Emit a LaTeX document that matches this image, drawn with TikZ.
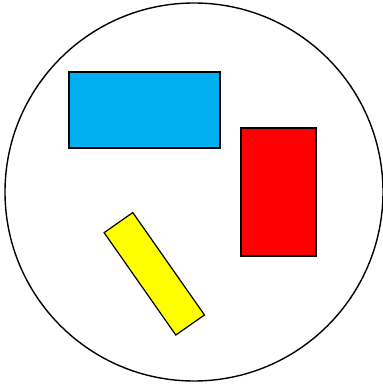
\documentclass[tikz,border=0pt]{standalone}
\usetikzlibrary{positioning,calc}
\definecolor{skyblue}{HTML}{00B0F0}
\definecolor{brightred}{HTML}{FF0000}
\definecolor{brightyellow}{HTML}{FFFF00}

\begin{document}
\begin{tikzpicture}[x=1pt,y=1pt,box/.style={draw,line width=1.2pt,inner sep=0pt}]
\useasboundingbox (0,0) rectangle (383,386);
\draw[line width=1.4pt] (194,194) circle (189);
\node[box,fill=skyblue,minimum width=151,minimum height=76] (blue) at (144.5,276){};
\node[box,fill=brightred,minimum width=75,minimum height=128] (red) at (278.5,194){};
\node[box,fill=brightyellow,minimum width=125,minimum height=35,rotate=-55] (yellow) at (154.3,112.2){};
\end{tikzpicture}
\end{document}
